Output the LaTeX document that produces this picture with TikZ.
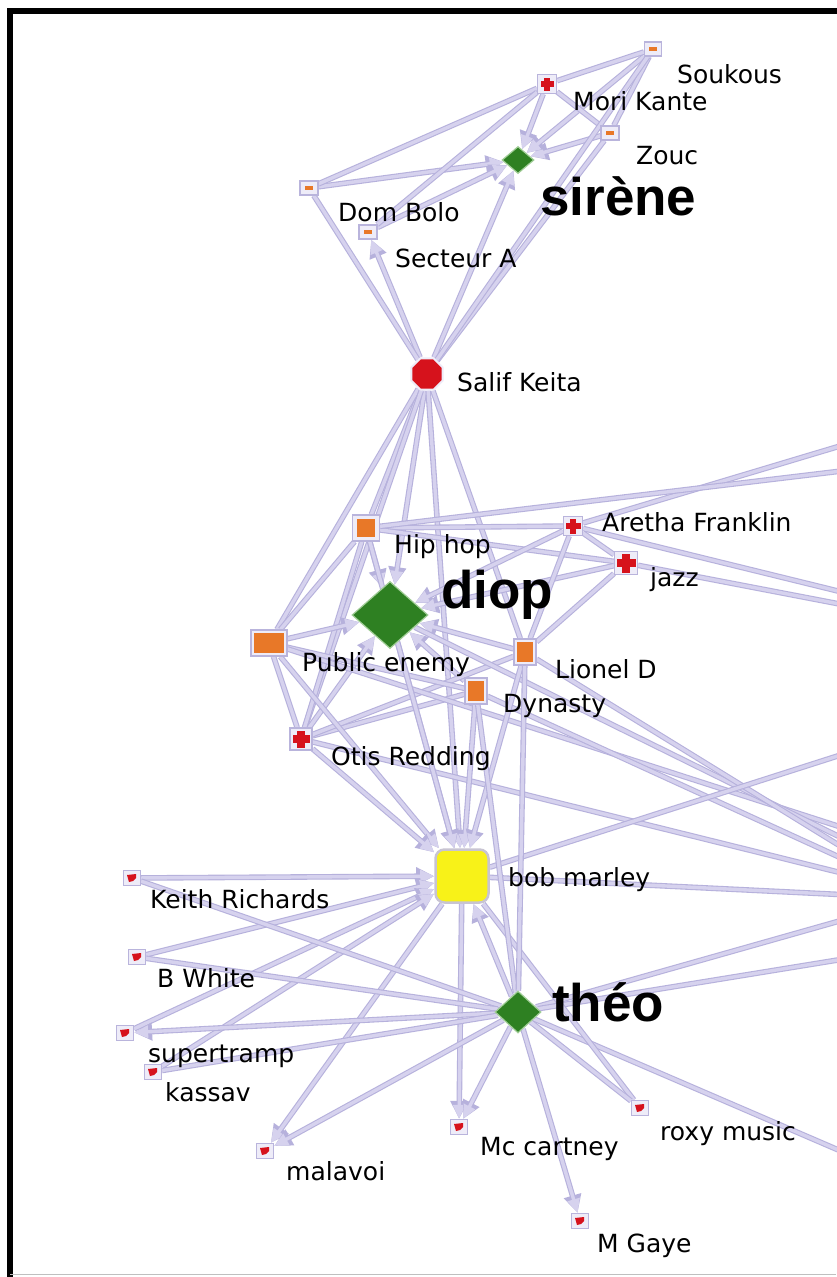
\documentclass[tikz,border=0pt]{standalone}
\usepackage{fontspec}
\setmainfont{DejaVu Sans}
\newfontfamily\bigfont{Liberation Sans}
\usetikzlibrary{arrows.meta,shapes.geometric,backgrounds}
\definecolor{edgec}{RGB}{214,210,238}
\definecolor{edgeo}{RGB}{182,177,220}
\definecolor{boxc}{RGB}{185,180,220}
\definecolor{boxf}{RGB}{238,236,248}
\definecolor{orangec}{RGB}{232,120,40}
\definecolor{redc}{RGB}{214,18,28}
\definecolor{greenc}{RGB}{46,128,34}
\definecolor{greenb}{RGB}{160,205,150}
\definecolor{yellowc}{RGB}{248,242,24}
\definecolor{yellowb}{RGB}{200,196,210}
\tikzset{
  conn/.style={preaction={draw=edgeo, line width=5.6pt, -{Triangle[width=17pt,length=18pt,fill=edgeo]}},
               draw=edgec, line width=3.4pt, -{Triangle[width=12pt,length=14pt,fill=edgec]}},
  plain/.style={preaction={draw=edgeo, line width=5.6pt}, draw=edgec, line width=3.4pt},
  lab/.style={font=\fontsize{25}{28}\selectfont, inner sep=0pt, anchor=base west, text=black},
  biglab/.style={font=\fontsize{53}{56}\selectfont\bigfont\bfseries, inner sep=0pt, anchor=base west, text=black},
  obox/.style n args={4}{rectangle, draw=boxc, fill=boxf, line width=1.2pt, inner sep=0pt,
     minimum width=#1pt, minimum height=#2pt,
     path picture={\fill[orangec] (path picture bounding box.center) +(-#3/2,-#4/2) rectangle +(#3/2,#4/2);}},
  xbox/.style n args={3}{rectangle, draw=boxc, fill=boxf, line width=1.2pt, inner sep=0pt,
     minimum width=#1pt, minimum height=#1pt,
     path picture={\fill[redc] (path picture bounding box.center) +(-#2,-#3) rectangle +(#2,#3);
                   \fill[redc] (path picture bounding box.center) +(-#3,-#2) rectangle +(#3,#2);}},
  rbox/.style={rectangle, draw=boxc, fill=boxf, line width=1.2pt, inner sep=0pt,
     minimum width=17pt, minimum height=15pt,
     path picture={\fill[redc] (path picture bounding box.center) +(-5,-3) -- +(4,-4) -- +(4,0) -- +(1,3) -- +(-3,4) -- cycle;}},
  gdiam/.style 2 args={diamond, fill=greenc, draw=greenb, line width=1.2pt, inner sep=0pt,
     minimum width=#1pt, minimum height=#2pt},
}
\begin{document}
\begin{tikzpicture}[x=1pt,y=-1pt]
\useasboundingbox (0,0) rectangle (836,1277);
% ---------------- nodes ----------------
\node[obox={17}{14}{8}{4}] (souk) at (653,49) {};
\node[xbox={19}{6.5}{2.8}] (mori) at (547,84) {};
\node[obox={18}{14}{8}{4}] (zouc) at (610,133) {};
\node[gdiam={32}{27}] (sirene) at (518,160) {};
\node[obox={18}{14}{8}{4}] (domb) at (309,188) {};
\node[obox={18}{14}{8}{4}] (secta) at (368,232) {};
\node[regular polygon, regular polygon sides=8, minimum size=34pt, inner sep=0pt,
      fill=redc, draw=boxf, line width=2pt] (salif) at (427,374) {};
\node[obox={27}{26}{18}{18}] (hiphop) at (366,528) {};
\node[xbox={19}{7.5}{3.2}] (aretha) at (573,526) {};
\node[xbox={23}{9.5}{4.2}] (jazz) at (626,563) {};
\node[gdiam={76}{67}] (diop) at (390,615) {};
\node[obox={36}{26}{30}{20}] (puben) at (269,643) {};
\node[obox={22}{26}{16}{20}] (lionel) at (525,652) {};
\node[obox={22}{26}{16}{20}] (dynasty) at (476,691) {};
\node[xbox={22}{8.5}{3.8}] (otis) at (301,739) {};
\node[rectangle, rounded corners=9pt, minimum width=53pt, minimum height=53pt,
      fill=yellowc, draw=yellowb, line width=2.5pt] (bob) at (462,876) {};
\node[rbox] (keith) at (132,878) {};
\node[rbox] (bwhite) at (137,957) {};
\node[gdiam={46}{42}] (theo) at (518,1012) {};
\node[rbox] (supert) at (125,1033) {};
\node[rbox] (kassav) at (153,1072) {};
\node[rbox] (malavoi) at (265,1151) {};
\node[rbox] (mccart) at (459,1127) {};
\node[rbox] (roxy) at (640,1108) {};
\node[rbox] (mgaye) at (580,1221) {};
% off-picture ends
\coordinate (oA) at (850,443);
\coordinate (oB) at (850,470);
\coordinate (oC) at (850,594);
\coordinate (oD) at (850,606);
\coordinate (oE) at (850,830);
\coordinate (oF) at (850,842);
\coordinate (oG) at (850,852);
\coordinate (oH) at (850,862);
\coordinate (oI) at (850,875);
\coordinate (oJ) at (850,752);
\coordinate (oK) at (850,895);
\coordinate (oL) at (850,918);
\coordinate (oM) at (850,958);
\coordinate (oN) at (850,1155);
% ---------------- labels ----------------
\node[lab] (tsouk) at (677,83) {Soukous};
\node[lab] (tmori) at (573,110) {Mori Kante};
\node[lab] (tzouc) at (636,164) {Zouc};
\node[biglab] (tsirene) at (540,215) {sirène};
\node[lab] (tdomb) at (338,221) {Dom Bolo};
\node[lab] (tsecta) at (395,267) {Secteur A};
\node[lab] (tsalif) at (457,391) {Salif Keita};
\node[lab] (thiphop) at (394,553) {Hip hop};
\node[lab] (taretha) at (602,531) {Aretha Franklin};
\node[lab] (tjazz) at (650,586) {jazz};
\node[biglab] (tdiop) at (441,608) {diop};
\node[lab] (tpuben) at (302,671) {Public enemy};
\node[lab] (tlionel) at (555,678) {Lionel D};
\node[lab] (tdynasty) at (503,712) {Dynasty};
\node[lab] (totis) at (331,765) {Otis Redding};
\node[lab] (tbob) at (508,886) {bob marley};
\node[lab] (tkeith) at (150,908) {Keith Richards};
\node[lab] (tbwhite) at (157,987) {B White};
\node[biglab] (ttheo) at (552,1021) {théo};
\node[lab] (tsupert) at (148,1062) {supertramp};
\node[lab] (tkassav) at (165,1101) {kassav};
\node[lab] (tmalavoi) at (286,1180) {malavoi};
\node[lab] (tmccart) at (480,1155) {Mc cartney};
\node[lab] (troxy) at (660,1140) {roxy music};
\node[lab] (tmgaye) at (597,1252) {M Gaye};
% ---------------- connectors ----------------
\begin{scope}[on background layer]
\fill[white] (0,0) rectangle (836,1277);
% top cluster
\draw[conn] (domb) -- (sirene);
\draw[plain] (domb) -- (mori);
\draw[conn] (secta) -- (sirene);
\draw[conn] (mori) -- (sirene);
\draw[conn] (zouc) -- (sirene);
\draw[conn] (souk) -- (sirene);
\draw[plain] (souk) -- (mori);
\draw[plain] (souk) -- (zouc);
\draw[plain] (mori) -- (zouc);
\draw[plain] (mori) -- (secta);
\draw[conn] (salif) -- (secta);
\draw[plain] (salif) -- (domb);
\draw[conn] (salif) -- (sirene);
\draw[plain] (salif) -- (zouc);
\draw[plain] (salif) -- (souk);
% middle cluster
\draw[plain] (salif) -- (hiphop);
\draw[plain] (salif) -- (puben);
\draw[conn] (salif) -- (diop);
\draw[plain] (salif) -- (lionel);
\draw[plain] (salif) -- (otis);
\draw[conn] (salif) -- (bob);
\draw[plain] (hiphop) -- (aretha);
\draw[plain] (hiphop) -- (jazz);
\draw[conn] (hiphop) -- (diop);
\draw[plain] (hiphop) -- (puben);
\draw[plain] (hiphop) -- (otis);
\draw[conn] (aretha) -- (diop);
\draw[conn] (jazz) -- (diop);
\draw[conn] (puben) -- (diop);
\draw[conn] (lionel) -- (diop);
\draw[conn] (dynasty) -- (diop);
\draw[conn] (otis) -- (diop);
\draw[plain] (lionel) -- (jazz);
\draw[plain] (lionel) -- (aretha);
\draw[plain] (aretha) -- (jazz);
\draw[plain] (otis) -- (dynasty);
\draw[plain] (otis) -- (lionel);
\draw[plain] (puben) -- (otis);
\draw[plain] (puben) -- (dynasty);
% to the right, beyond the picture
\draw[plain] (aretha) -- (oA);
\draw[plain] (hiphop) -- (oB);
\draw[plain] (aretha) -- (oC);
\draw[plain] (jazz) -- (oD);
\draw[plain] (puben) -- (oE);
\draw[plain] (diop) -- (oF);
\draw[plain] (lionel) -- (oG);
\draw[plain] (dynasty) -- (oH);
\draw[plain] (otis) -- (oI);
\draw[plain] (bob) -- (oJ);
\draw[plain] (bob) -- (oK);
\draw[plain] (theo) -- (oL);
\draw[plain] (theo) -- (oM);
\draw[plain] (theo) -- (oN);
% bob marley
\draw[conn] (diop) -- (bob);
\draw[conn] (puben) -- (bob);
\draw[conn] (otis) -- (bob);
\draw[conn] (dynasty) -- (bob);
\draw[conn] (lionel) -- (bob);
\draw[conn] (hiphop) -- (bob);
\draw[conn] (theo) -- (bob);
\draw[conn] (keith) -- (bob);
\draw[conn] (bwhite) -- (bob);
\draw[conn] (supert) -- (bob);
\draw[conn] (kassav) -- (bob);
\draw[conn] (bob) -- (malavoi);
\draw[conn] (bob) -- (mccart);
\draw[plain] (bob) -- (roxy);
% theo
\draw[plain] (keith) -- (theo);
\draw[plain] (bwhite) -- (theo);
\draw[conn] (theo) -- (supert);
\draw[plain] (kassav) -- (theo);
\draw[conn] (theo) -- (malavoi);
\draw[conn] (theo) -- (mccart);
\draw[conn] (theo) -- (mgaye);
\draw[plain] (theo) -- (roxy);
\draw[plain] (dynasty) -- (theo);
\draw[plain] (lionel) -- (theo);
\end{scope}
% frame
\draw[line width=5.5pt] (10,1290) -- (10,11) -- (850,11);
\draw[line width=0.8pt, black!25] (10,1274) -- (836,1274);
\end{tikzpicture}
\end{document}
